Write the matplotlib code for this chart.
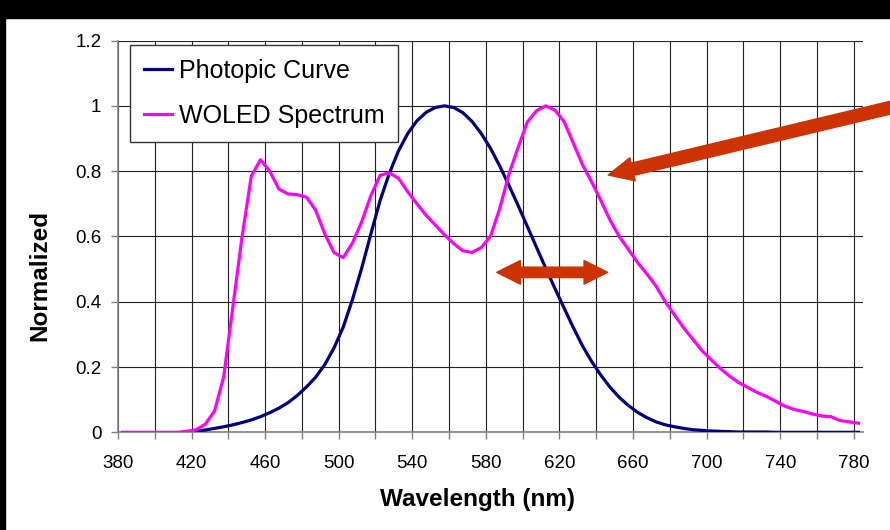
import numpy as np
import matplotlib
matplotlib.use("Agg")
import matplotlib.pyplot as plt
from matplotlib.patches import FancyArrowPatch, Rectangle

plt.rcParams["font.family"] = ["Liberation Sans", "DejaVu Sans"]

# Photopic curve, 420-780 nm in 5 nm steps
photopic_wl = np.arange(420, 781, 5)
photopic = [0.004, 0.007, 0.012, 0.017, 0.023, 0.030, 0.038, 0.048, 0.060, 0.074,
            0.091, 0.113, 0.139, 0.169, 0.208, 0.259, 0.323, 0.407, 0.503, 0.608,
            0.710, 0.793, 0.862, 0.915, 0.954, 0.980, 0.995, 1.000, 0.995, 0.979,
            0.952, 0.915, 0.870, 0.816, 0.757, 0.695, 0.631, 0.567, 0.503, 0.441,
            0.381, 0.321, 0.265, 0.217, 0.175, 0.138, 0.107, 0.082, 0.061, 0.045,
            0.032, 0.023, 0.017, 0.012, 0.008, 0.006, 0.004, 0.003, 0.002, 0.001,
            0.001, 0.001, 0.001, 0.0, 0.0, 0.0, 0.0, 0.0, 0.0, 0.0,
            0.0, 0.0, 0.0]

# WOLED spectrum, 380-780 nm in 5 nm steps
woled_wl = np.arange(380, 781, 5)
woled = [0.0, 0.0, 0.0, 0.0, 0.0, 0.0, 0.0, 0.003, 0.008, 0.025,
         0.065, 0.17, 0.385, 0.60, 0.785, 0.835, 0.80, 0.745, 0.73, 0.728,
         0.72, 0.68, 0.607, 0.55, 0.535, 0.58, 0.645, 0.725, 0.787, 0.795,
         0.778, 0.737, 0.70, 0.665, 0.635, 0.605, 0.578, 0.556, 0.551, 0.566,
         0.60, 0.685, 0.79, 0.872, 0.95, 0.985, 1.0, 0.987, 0.952, 0.886,
         0.82, 0.767, 0.71, 0.65, 0.60, 0.56, 0.52, 0.485, 0.448, 0.40,
         0.36, 0.32, 0.285, 0.25, 0.222, 0.195, 0.172, 0.152, 0.137, 0.122,
         0.11, 0.095, 0.08, 0.07, 0.064, 0.056, 0.05, 0.048, 0.036, 0.032,
         0.028]

xticks = list(range(380, 781, 20))
yticks = [0, 0.2, 0.4, 0.6, 0.8, 1.0, 1.2]

fig = plt.figure(figsize=(8.9, 5.3), dpi=100)
# black frame strips at top and left
fig.patches.append(Rectangle((0, 512 / 530), 1, 18 / 530, transform=fig.transFigure,
                             color="black", zorder=0))
fig.patches.append(Rectangle((0, 0), 5 / 890, 1, transform=fig.transFigure,
                             color="black", zorder=0))

ax = fig.add_axes([0.1325, 0.1843, 0.8372, 0.7392])

# points sit in the middle of each 5 nm category (Excel style)
ax.plot(photopic_wl + 2.5, photopic, color="#000080", lw=2.3, label="Photopic Curve", zorder=3)
ax.plot(woled_wl + 2.5, woled, color="#FF00FF", lw=2.3, label="WOLED Spectrum", zorder=4)

ax.set_xlim(380, 785)
ax.set_ylim(0, 1.2)
ax.set_xticks(xticks)
ax.set_xticklabels([str(v) if (v - 380) % 40 == 0 else "" for v in xticks])
ax.set_yticks(yticks)
ax.set_yticklabels(["%g" % v for v in yticks])
ax.grid(True, color="#222222", lw=0.8)
ax.set_axisbelow(True)
for s in ["top", "right"]:
    ax.spines[s].set_visible(False)
for s in ["left", "bottom"]:
    ax.spines[s].set_color("#808080")
    ax.spines[s].set_linewidth(1.2)
ax.tick_params(axis="both", direction="out", length=5, width=1, color="#808080", labelsize=13.5)
ax.tick_params(axis="x", pad=11)
ax.tick_params(axis="y", pad=7)

ax.set_xlabel("Wavelength (nm)", fontsize=17.5, fontweight="bold", va="center")
ax.xaxis.set_label_coords(0.483, -0.172)
ax.set_ylabel("Normalized", fontsize=17.5, fontweight="bold", va="center")
ax.yaxis.set_label_coords(-0.1045, 0.4015)

leg = ax.legend(loc="upper left", bbox_to_anchor=(0.0162, 0.9885), borderaxespad=0,
                fontsize=18, frameon=True, fancybox=False, framealpha=1,
                edgecolor="#333333", handlelength=1.15, handletextpad=0.25,
                borderpad=0.55, labelspacing=0.85)
leg.get_frame().set_linewidth(1.0)

arrow_color = "#CC3300"
big = FancyArrowPatch((810.7, 1.009), (646.5, 0.788),
                      arrowstyle="simple,head_length=18,head_width=17,tail_width=9",
                      mutation_scale=1, color=arrow_color, clip_on=False, zorder=6,
                      shrinkA=0, shrinkB=0)
ax.add_patch(big)
for end in [585.9, 646.2]:
    ax.add_patch(FancyArrowPatch((616, 0.49), (end, 0.49),
                                 arrowstyle="simple,head_length=17,head_width=17,tail_width=7.5",
                                 mutation_scale=1, color=arrow_color, zorder=6,
                                 shrinkA=0, shrinkB=0))

fig.savefig("out.png", dpi=100)
